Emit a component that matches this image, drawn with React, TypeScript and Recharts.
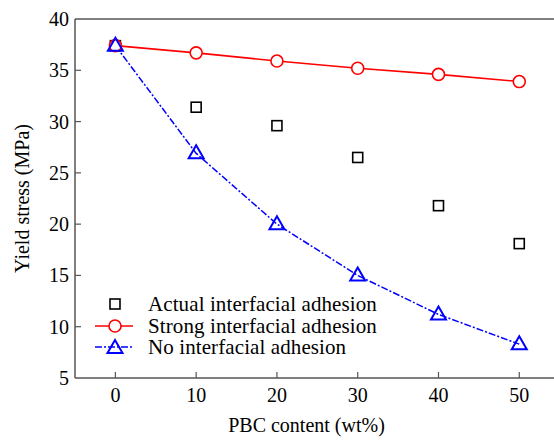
import { ComposedChart, Line, XAxis, YAxis, ReferenceLine } from 'recharts';

// PBC content (wt%)
const pbcContent = [0, 10, 20, 30, 40, 50];
// yield stress (MPa)
const actualAdhesion = [37.4, 31.4, 29.6, 26.5, 21.8, 18.1];
const strongAdhesion = [37.4, 36.7, 35.9, 35.2, 34.6, 33.9];
const noAdhesion = [37.4, 26.9, 20.0, 15.0, 11.2, 8.3];

const xTicks = [0, 10, 20, 30, 40, 50];
const yTicks = [5, 10, 15, 20, 25, 30, 35, 40];

const legendItems = [
  { name: 'Actual interfacial adhesion', key: 'actual' },
  { name: 'Strong interfacial adhesion', key: 'strong' },
  { name: 'No interfacial adhesion', key: 'none' },
];

const data = pbcContent.map((x, i) => ({
  x,
  actual: actualAdhesion[i],
  strong: strongAdhesion[i],
  none: noAdhesion[i],
}));

const FONT = "'Times New Roman', Times, 'Liberation Serif', 'DejaVu Serif', serif";
const AXIS = '#555';
const BLUE_DASH = '7 2 2 2';

const Square = (props: any) => {
  const { cx, cy } = props;
  if (cx == null || cy == null) return null;
  return <rect x={cx - 5} y={cy - 5} width={10} height={10} fill="none" stroke="#000" strokeWidth={1.6} />;
};

const Circle = (props: any) => {
  const { cx, cy } = props;
  if (cx == null || cy == null) return null;
  return <circle cx={cx} cy={cy} r={6} fill="#fff" stroke="#f00" strokeWidth={1.6} />;
};

const Triangle = (props: any) => {
  const { cx, cy } = props;
  if (cx == null || cy == null) return null;
  return (
    <path
      d={`M${cx},${cy - 8} L${cx + 7.5},${cy + 5} L${cx - 7.5},${cy + 5} Z`}
      fill="none"
      stroke="#00f"
      strokeWidth={2}
    />
  );
};

// ticks point into the plot, labels sit outside
const YTick = (props: any) => {
  const { x, y, payload } = props;
  const ax = x + 6;
  return (
    <g>
      {payload.value !== 5 && payload.value !== 40 && (
        <line x1={ax} x2={ax + 6} y1={y} y2={y} stroke={AXIS} strokeWidth={1.2} />
      )}
      <text x={x} y={y} dy="0.35em" textAnchor="end" fontSize={20} fill="#000" style={{ fontFamily: FONT }}>
        {payload.value}
      </text>
    </g>
  );
};

const XTick = (props: any) => {
  const { x, y, payload } = props;
  const ay = y - 9;
  return (
    <g>
      <line x1={x} x2={x} y1={ay} y2={ay - 6} stroke={AXIS} strokeWidth={1.2} />
      <text x={x} y={y} dy="0.75em" textAnchor="middle" fontSize={20} fill="#000" style={{ fontFamily: FONT }}>
        {payload.value}
      </text>
    </g>
  );
};

const YLabel = (props: any) => {
  const { viewBox } = props;
  const cy = viewBox.y + viewBox.height / 2;
  return (
    <text
      x={22}
      y={cy}
      transform={`rotate(-90, 22, ${cy})`}
      textAnchor="middle"
      dominantBaseline="central"
      fontSize={20}
      fill="#000"
      style={{ fontFamily: FONT }}
    >
      Yield stress (MPa)
    </text>
  );
};

const XLabel = (props: any) => {
  const { viewBox } = props;
  const cx = viewBox.x + viewBox.width / 2;
  return (
    <text x={cx - 8} y={432} textAnchor="middle" fontSize={20} fill="#000" style={{ fontFamily: FONT }}>
      PBC content (wt%)
    </text>
  );
};

const LegendIcon = ({ kind }: { kind: string }) => (
  <svg width={44} height={21} style={{ display: 'block' }}>
    {kind === 'actual' && <Square cx={20} cy={10} />}
    {kind === 'strong' && (
      <>
        <line x1={0} x2={38} y1={10} y2={10} stroke="#f00" strokeWidth={1.6} />
        <Circle cx={20} cy={10} />
      </>
    )}
    {kind === 'none' && (
      <>
        <line x1={0} x2={38} y1={10} y2={10} stroke="#00f" strokeWidth={1.5} strokeDasharray={BLUE_DASH} />
        <Triangle cx={20} cy={11} />
      </>
    )}
  </svg>
);

const ChartLegend = () => (
  <div
    style={{
      position: 'absolute',
      left: 95,
      top: 294,
      fontFamily: FONT,
      fontSize: 21,
      letterSpacing: '0.1px',
      color: '#000',
      lineHeight: '21px',
    }}
  >
    {legendItems.map((item) => (
      <div key={item.key} style={{ display: 'flex', alignItems: 'center', height: 21.5 }}>
        <LegendIcon kind={item.key} />
        <span style={{ display: 'block', height: 21, marginLeft: 9, whiteSpace: 'nowrap' }}>{item.name}</span>
      </div>
    ))}
  </div>
);

export default function App() {
  return (
    <div style={{ position: 'absolute', left: 0, top: 0, width: 554, height: 441, background: '#fff', fontFamily: FONT }}>
      <ComposedChart width={554} height={441} data={data} margin={{ top: 19, right: 0, bottom: 0, left: 0 }}>
        <XAxis
          dataKey="x"
          type="number"
          domain={[-5, 54.3]}
          ticks={xTicks}
          allowDataOverflow
          axisLine={{ stroke: AXIS, strokeWidth: 1.5 }}
          tickLine={false}
          tickSize={0}
          tickMargin={9}
          tick={<XTick />}
          height={63}
          label={<XLabel />}
        />
        <YAxis
          type="number"
          domain={[5, 40]}
          ticks={yTicks}
          allowDataOverflow
          width={75}
          axisLine={{ stroke: AXIS, strokeWidth: 1.5 }}
          tickLine={false}
          tickSize={0}
          tickMargin={6}
          tick={<YTick />}
          label={<YLabel />}
        />
        <ReferenceLine y={40} stroke={AXIS} strokeWidth={1.5} />
        <Line
          dataKey="actual"
          stroke="none"
          dot={<Square />}
          activeDot={false}
          isAnimationActive={false}
        />
        <Line
          dataKey="strong"
          stroke="#f00"
          strokeWidth={1.6}
          dot={<Circle />}
          activeDot={false}
          isAnimationActive={false}
        />
        <Line
          dataKey="none"
          stroke="#00f"
          strokeWidth={1.5}
          strokeDasharray={BLUE_DASH}
          dot={<Triangle />}
          activeDot={false}
          isAnimationActive={false}
        />
      </ComposedChart>
      <ChartLegend />
    </div>
  );
}
